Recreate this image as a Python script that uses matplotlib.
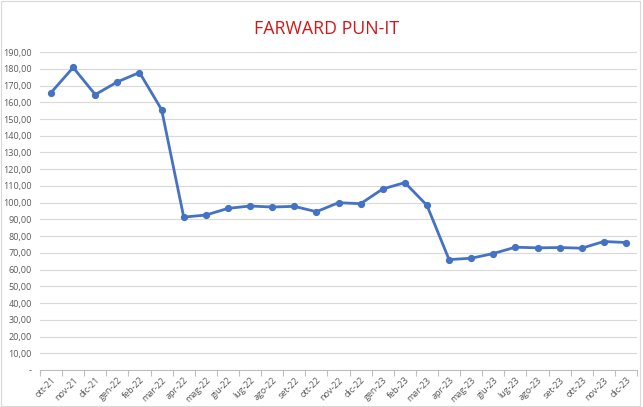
import numpy as np
import matplotlib
matplotlib.use('Agg')
from matplotlib import pyplot as plt
from matplotlib.ticker import FuncFormatter, FixedLocator

# dati
mesi = ['ott-21', 'nov-21', 'dic-21', 'gen-22', 'feb-22', 'mar-22', 'apr-22',
        'mag-22', 'giu-22', 'lug-22', 'ago-22', 'set-22', 'ott-22', 'nov-22',
        'dic-22', 'gen-23', 'feb-23', 'mar-23', 'apr-23', 'mag-23', 'giu-23',
        'lug-23', 'ago-23', 'set-23', 'ott-23', 'nov-23', 'dic-23']
prezzi = [165.8, 180.8, 164.6, 172.2, 177.8, 155.6, 91.4,
          92.6, 96.6, 98.0, 97.4, 97.8, 94.6, 100.0,
          99.4, 108.2, 112.0, 98.4, 66.0, 66.8, 69.6,
          73.4, 73.0, 73.2, 72.8, 76.8, 76.2]
y_ticks = list(range(0, 200, 10))

plt.rcParams['font.family'] = ['Open Sans', 'DejaVu Sans']

fig = plt.figure(figsize=(6.43, 4.07), dpi=100)
ax = fig.add_axes([0.0622, 0.0909, 0.9285, 0.7811])

x = np.arange(len(mesi))
ax.plot(x, prezzi, color='#4472C4', lw=2.0, marker='o', ms=4.2, zorder=3)

ax.set_xlim(-0.5, len(mesi) - 0.5)
ax.set_ylim(0, 190)
ax.set_yticks(y_ticks)

def fmt(v, pos):
    if v == 0:
        return '-'
    return ('%.2f' % v).replace('.', ',')

ax.yaxis.set_major_formatter(FuncFormatter(fmt))
ax.set_xticks(x)
ax.set_xticklabels(mesi, rotation=45, ha='right', rotation_mode='anchor')
ax.xaxis.set_minor_locator(FixedLocator(np.arange(-0.5, len(mesi), 1)))

ax.grid(axis='y', color='#D9D9D9', lw=0.8)
ax.set_axisbelow(True)
for s in ['top', 'right', 'left']:
    ax.spines[s].set_visible(False)
ax.spines['bottom'].set_color('#BFBFBF')
ax.spines['bottom'].set_linewidth(0.8)

ax.tick_params(axis='y', length=0, labelsize=6.5, labelcolor='#595959', pad=6)
ax.tick_params(axis='x', which='major', length=0, labelsize=6.5,
               labelcolor='#595959', pad=4)
ax.tick_params(axis='x', which='minor', length=4, color='#BFBFBF', width=0.8)

fig.text(0.508, 0.928, 'FARWARD PUN-IT', color='#D01818', fontsize=12.8,
         ha='center', va='center')

# bordo del grafico
fig.patches.append(plt.Rectangle((0.002, 0.003), 0.993, 0.994,
                                 transform=fig.transFigure, fill=False,
                                 edgecolor='#D9D9D9', lw=0.8))

plt.savefig('out.png', dpi=100)
